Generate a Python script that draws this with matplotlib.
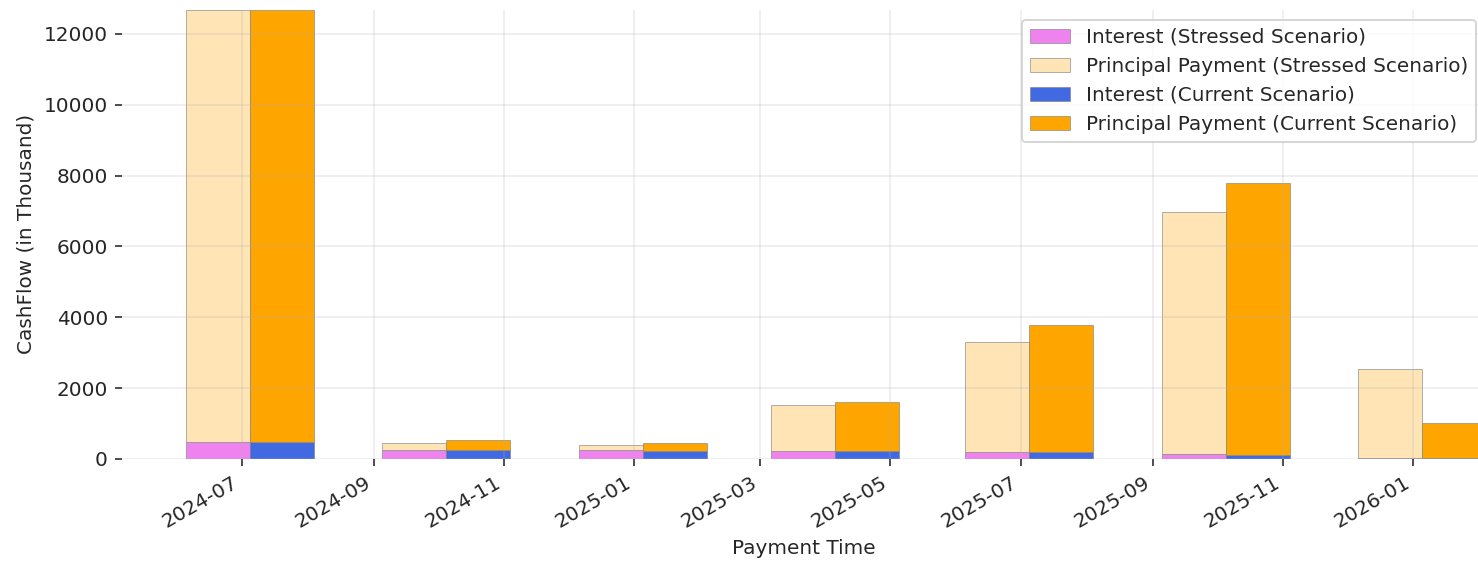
import numpy as np
import pandas as pd
import matplotlib
matplotlib.use('Agg')
import matplotlib.pyplot as plt
import matplotlib.dates as mdates

# quarterly payment dates
pay_dates = ['2024-07-05', '2024-10-05', '2025-01-05', '2025-04-05',
             '2025-07-05', '2025-10-05', '2026-01-05']

# cashflows in thousand
interest_stressed = [490, 242, 242, 235, 198, 150, 28]
principal_stressed = [12200, 223, 167, 1299, 3115, 6815, 2513]
interest_current = [490, 242, 233, 235, 198, 113, 35]
principal_current = [12200, 288, 223, 1375, 3576, 7689, 981]

dates = mdates.date2num(pd.to_datetime(pay_dates))
bar_w = 30  # days

plt.rcParams['font.size'] = 10
plt.rcParams['text.color'] = '.15'
plt.rcParams['axes.labelcolor'] = '.15'
plt.rcParams['xtick.color'] = '.15'
plt.rcParams['ytick.color'] = '.15'

fig = plt.figure(figsize=(1478 / 144, 561 / 144), dpi=144)
ax = fig.add_axes([122 / 1478, 102 / 561, 1364 / 1478, 449.5 / 561])

edge = dict(edgecolor=(0.5, 0.5, 0.5, 0.6), linewidth=0.5)
ax.bar(dates - bar_w / 2, interest_stressed, width=bar_w, color='violet',
       label='Interest (Stressed Scenario)', **edge)
ax.bar(dates - bar_w / 2, principal_stressed, width=bar_w, bottom=interest_stressed,
       color='moccasin', label='Principal Payment (Stressed Scenario)', **edge)
ax.bar(dates + bar_w / 2, interest_current, width=bar_w, color='royalblue',
       label='Interest (Current Scenario)', **edge)
ax.bar(dates + bar_w / 2, principal_current, width=bar_w, bottom=interest_current,
       color='orange', label='Principal Payment (Current Scenario)', **edge)

ax.margins(y=0)
ax.set_xlim(dates[0] - 2 * bar_w, dates[-1] + bar_w)

ax.xaxis.set_major_locator(mdates.MonthLocator(bymonth=[1, 3, 5, 7, 9, 11]))
ax.xaxis.set_major_formatter(mdates.DateFormatter('%Y-%m'))
for lbl in ax.get_xticklabels():
    lbl.set_rotation(30)
    lbl.set_ha('right')

ax.grid(True, color='#b0b0b0', alpha=0.2, linewidth=1.0)
for s in ax.spines.values():
    s.set_visible(False)

ax.set_xlabel('Payment Time')
ax.set_ylabel('CashFlow (in Thousand)')
ax.legend(loc='upper right')

fig.savefig('out.png', dpi=144)
